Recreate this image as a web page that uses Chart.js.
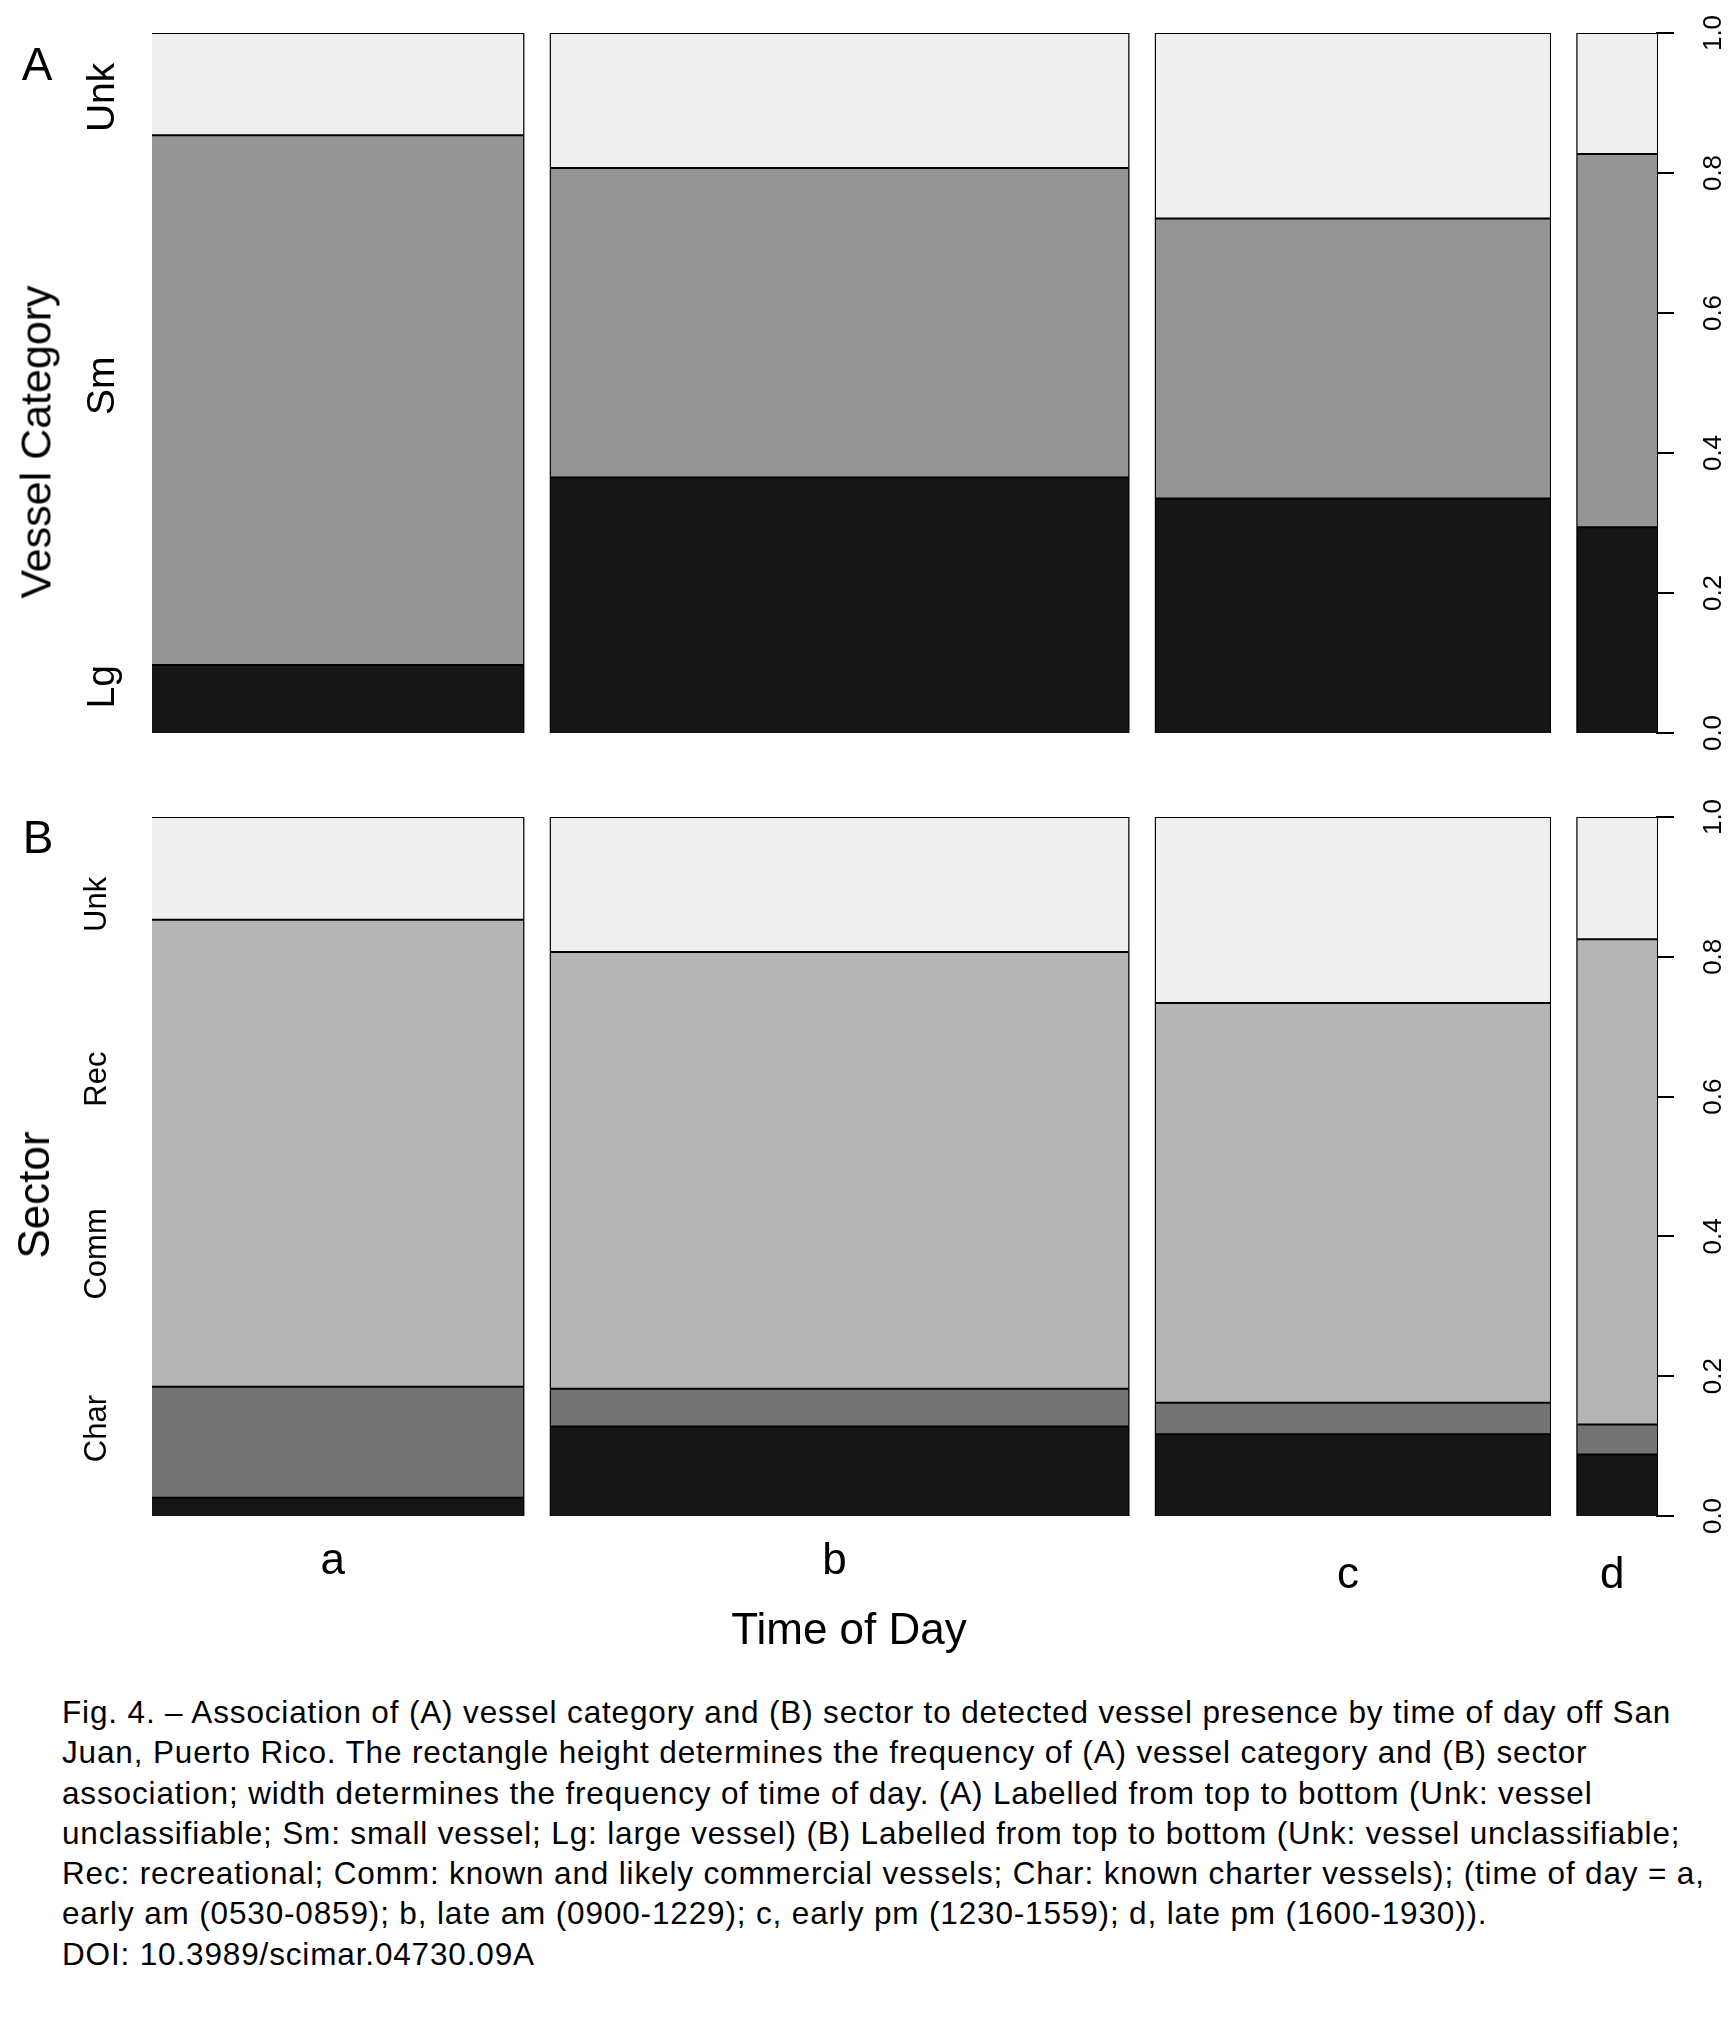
<!DOCTYPE html>
<html>
<head>
<meta charset="utf-8">
<script src="https://cdn.jsdelivr.net/npm/chart.js@4.4.1/dist/chart.umd.min.js"></script>
<style>
  html, body { margin: 0; padding: 0; background: #fff; }
  body { width: 1732px; height: 2021px; position: relative; overflow: hidden;
         font-family: "Liberation Sans", Arial, sans-serif; color: #000; }
  .box { position: absolute; left: 0; width: 1732px; }
  #boxA { top: 0; height: 760px; }
  #boxB { top: 780px; height: 880px; }
  .lbl { position: absolute; white-space: nowrap; line-height: 1; transform: translate(-50%, -50%); }
  .rot { transform: translate(-50%, -50%) rotate(-90deg); }
  #caption { position: absolute; left: 62px; top: 1692px; font-size: 31.5px; letter-spacing: 0.85px;
             line-height: 40.3px; white-space: nowrap; }
</style>
</head>
<body>
<div class="box" id="boxA"><canvas id="chartA"></canvas></div>
<div class="box" id="boxB"><canvas id="chartB"></canvas></div>

<div class="lbl" style="left:37px; top:64px; font-size:46px;">A</div>
<div class="lbl" style="left:38px; top:837px; font-size:46px;">B</div>
<div class="lbl rot" style="left:36px; top:442px; font-size:43px;">Vessel Category</div>
<div class="lbl rot" style="left:34px; top:1195px; font-size:44px;">Sector</div>
<div class="lbl" style="left:849px; top:1629px; font-size:44px;">Time of Day</div>

<div id="caption">
Fig. 4. – Association of (A) vessel category and (B) sector to detected vessel presence by time of day off San<br>
Juan, Puerto Rico. The rectangle height determines the frequency of (A) vessel category and (B) sector<br>
association; width determines the frequency of time of day. (A) Labelled from top to bottom (Unk: vessel<br>
unclassifiable; Sm: small vessel; Lg: large vessel) (B) Labelled from top to bottom (Unk: vessel unclassifiable;<br>
Rec: recreational; Comm: known and likely commercial vessels; Char: known charter vessels); (time of day = a,<br>
early am (0530-0859); b, late am (0900-1229); c, early pm (1230-1559); d, late pm (1600-1930)).<br>
DOI: 10.3989/scimar.04730.09A
</div>

<script>
// time of day columns, width = share of detections
const times = ['a', 'b', 'c', 'd'];
const timeShare = [0.261, 0.406, 0.277, 0.056];
const gap = 0.0192;

// (A) vessel category, bottom to top
const vesselCats = ['Lg', 'Sm', 'Unk'];
const vesselLg = [0.097, 0.365, 0.335, 0.294];
const vesselSm = [0.757, 0.442, 0.400, 0.533];
const vesselUnk = [0.146, 0.193, 0.265, 0.173];
const vesselTickPos = [0.066, 0.496, 0.908];

// (B) sector, bottom to top
const sectorCats = ['Char', 'Comm', 'Rec', 'Unk'];
const sectorChar = [0.026, 0.128, 0.117, 0.088];
const sectorComm = [0.159, 0.054, 0.045, 0.043];
const sectorRec = [0.668, 0.625, 0.572, 0.694];
const sectorUnk = [0.147, 0.193, 0.266, 0.175];
const sectorTickPos = [0.125, 0.375, 0.625, 0.875];

const propTicks = [0, 0.2, 0.4, 0.6, 0.8, 1.0];

const vesselColors = ['#161616', '#959595', '#efefef'];
const sectorColors = ['#161616', '#737373', '#b4b4b4', '#efefef'];
const FONT = '"Liberation Sans", Arial, sans-serif';

// column positions on the x scale
const colStart = [];
let acc = 0;
timeShare.forEach(w => { colStart.push(acc); acc += w + gap; });
const xMax = acc - gap;
const colMid = timeShare.map((w, i) => colStart[i] + w / 2);

function mosaicDatasets(series, colors) {
  const sets = [];
  times.forEach((t, i) => {
    const x0 = colStart[i];
    const x1 = colStart[i] + timeShare[i];
    let base = 0;
    series.forEach((s, k) => {
      const top = base + s[i];
      sets.push({
        type: 'line',
        data: [{x: x0, y: top}, {x: x1, y: top}],
        borderColor: '#000',
        borderWidth: 2,
        backgroundColor: colors[k],
        fill: {value: base},
        pointRadius: 0,
        tension: 0
      });
      base = top;
    });
    // column outline
    sets.push({
      type: 'line',
      data: [{x: x0, y: 0}, {x: x0, y: 1}, {x: x1, y: 1}, {x: x1, y: 0}, {x: x0, y: 0}],
      borderColor: '#000',
      borderWidth: 2,
      borderJoinStyle: 'miter',
      borderCapStyle: 'square',
      fill: false,
      pointRadius: 0,
      tension: 0
    });
  });
  return sets;
}

// rotated tick labels (read bottom to top) on the y scales
function sideLabels(items) {
  return {
    id: 'sideLabels',
    afterDraw(chart) {
      const {ctx, chartArea} = chart;
      items.forEach(item => {
        const scale = chart.scales[item.scale];
        ctx.save();
        ctx.font = item.font;
        ctx.fillStyle = '#000';
        ctx.textAlign = 'center';
        ctx.textBaseline = 'middle';
        scale.ticks.forEach((t, i) => {
          const x = item.side === 'left' ? chartArea.left - item.offset : chartArea.right + item.offset;
          ctx.save();
          ctx.translate(x, scale.getPixelForValue(t.value));
          ctx.rotate(-Math.PI / 2);
          ctx.fillText(item.labels[i], 0, 0);
          ctx.restore();
        });
        ctx.restore();
      });
    }
  };
}

function yScales(catTicks) {
  return {
    y: {
      type: 'linear', position: 'right', min: 0, max: 1,
      afterBuildTicks: s => { s.ticks = propTicks.map(v => ({value: v})); },
      ticks: {display: false},
      grid: {drawOnChartArea: false, color: '#000', lineWidth: 2, tickLength: 17},
      border: {display: true, color: '#000', width: 2},
      afterFit: s => { s.width = 75; }
    },
    yl: {
      type: 'linear', position: 'left', min: 0, max: 1,
      afterBuildTicks: s => { s.ticks = catTicks.map(v => ({value: v})); },
      ticks: {display: false},
      grid: {display: false},
      border: {display: false},
      afterFit: s => { s.width = 152; }
    }
  };
}

const propLabels = propTicks.map(v => v.toFixed(1));

// panel A
new Chart(document.getElementById('chartA'), {
  type: 'line',
  data: {datasets: mosaicDatasets([vesselLg, vesselSm, vesselUnk], vesselColors)},
  options: {
    responsive: true,
    maintainAspectRatio: false,
    animation: false,
    events: [],
    layout: {padding: {top: 33, bottom: 27, left: 0, right: 0}},
    plugins: {legend: {display: false}, tooltip: {enabled: false}},
    scales: Object.assign({
      x: {type: 'linear', min: 0, max: xMax, display: false}
    }, yScales(vesselTickPos))
  },
  plugins: [sideLabels([
    {scale: 'yl', side: 'left', offset: 49, font: '39px ' + FONT, labels: vesselCats},
    {scale: 'y', side: 'right', offset: 57, font: '26px ' + FONT, labels: propLabels}
  ])]
});

// panel B
new Chart(document.getElementById('chartB'), {
  type: 'line',
  data: {datasets: mosaicDatasets([sectorChar, sectorComm, sectorRec, sectorUnk], sectorColors)},
  options: {
    responsive: true,
    maintainAspectRatio: false,
    animation: false,
    events: [],
    layout: {padding: {top: 37, bottom: 0, left: 0, right: 0}},
    plugins: {legend: {display: false}, tooltip: {enabled: false}},
    scales: Object.assign({
      x: {
        type: 'linear', position: 'bottom', min: 0, max: xMax,
        afterBuildTicks: s => { s.ticks = colMid.map(v => ({value: v})); },
        ticks: {
          autoSkip: false, maxRotation: 0, padding: 19, labelOffset: -5, color: '#000',
          callback: (v, i) => times[i],
          // c and d sit a little lower, as in the original
          font: ctx => ({family: FONT, size: 44, lineHeight: ctx.index >= 2 ? 1.84 : 1.2})
        },
        grid: {display: false, drawTicks: false},
        border: {display: false},
        afterFit: s => { s.height = 144; }
      }
    }, yScales(sectorTickPos))
  },
  plugins: [sideLabels([
    {scale: 'yl', side: 'left', offset: 55, font: '31px ' + FONT, labels: sectorCats},
    {scale: 'y', side: 'right', offset: 57, font: '26px ' + FONT, labels: propLabels}
  ])]
});
</script>
</body>
</html>
